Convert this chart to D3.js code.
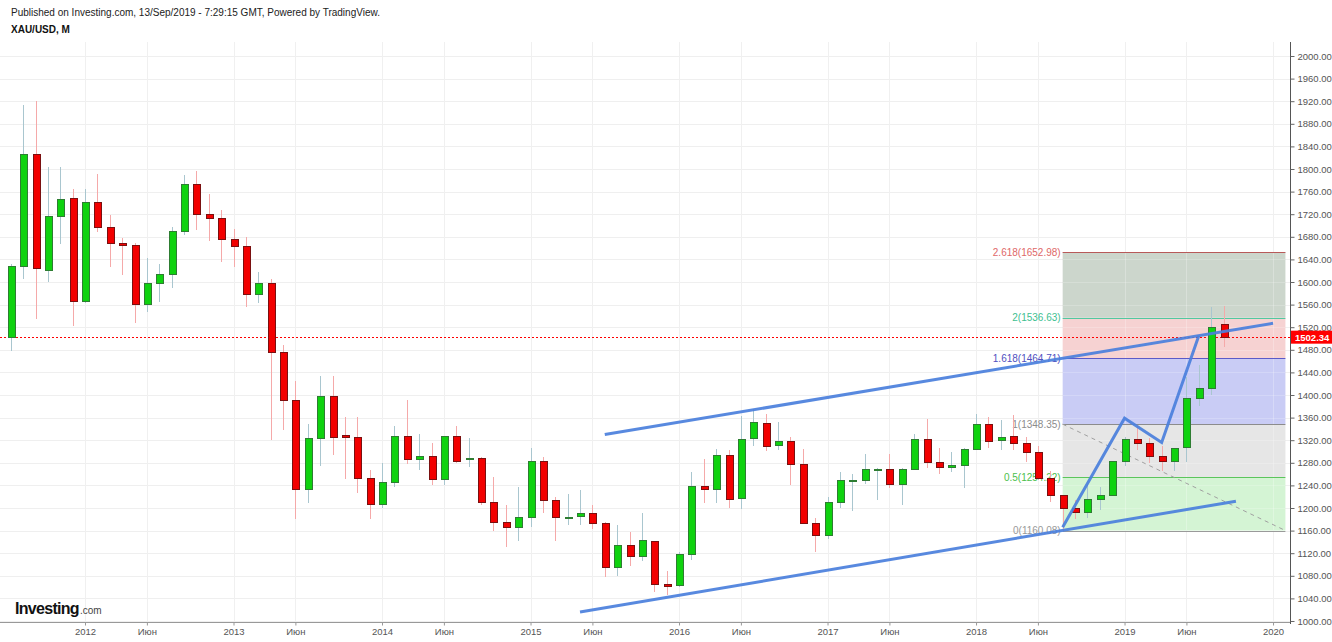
<!DOCTYPE html>
<html><head><meta charset="utf-8">
<script src="https://cdn.jsdelivr.net/npm/d3@7"></script>
<style>body{margin:0;background:#fff}svg{display:block;font-family:"Liberation Sans",Arial,sans-serif}</style>
</head><body><svg id="c" width="1332" height="642"></svg>
<script>
// ---- DATA (monthly XAU/USD, Jul 2011 .. Sep 2019) ----
const firstMonth = "2011-07";
const openV = [1502,1628,1826,1620,1716,1748, 1566,1740,1697,1669,1664,1561,1598,1614,1690,1772,1719,1712,
 1675,1663,1578,1597,1476,1391,1233,1323,1397,1328,1324,1252, 1206,1245,1327,1285,1292,1250,1327,1288,1288,1210,1174,1166,
 1184,1282,1213,1183,1185,1190,1173,1095,1134,1115,1140,1065, 1062,1118,1238,1233,1293,1216,1323,1350,1310,1317,1277,1173,
 1152,1210,1249,1249,1268,1268,1242,1269,1321,1280,1271,1275, 1303,1347,1319,1326,1315,1298,1252,1223,1200,1192,1215,1222,
 1282,1321,1314,1292,1283,1307,1394,1412,1524];
const highV = [1632,1913,1921,1803,1803,1764, 1764,1791,1719,1677,1669,1643,1631,1697,1790,1796,1755,1727,
 1694,1679,1617,1605,1488,1424,1348,1433,1434,1361,1361,1267, 1280,1345,1392,1331,1315,1326,1345,1324,1291,1255,1205,1238,
 1307,1291,1220,1224,1232,1205,1175,1170,1157,1191,1142,1088, 1123,1263,1287,1304,1303,1362,1375,1367,1352,1326,1304,1183,
 1220,1264,1261,1295,1270,1296,1270,1331,1358,1306,1299,1307, 1366,1361,1356,1365,1326,1309,1265,1220,1214,1243,1237,1284,
 1326,1346,1324,1310,1305,1432,1453,1556,1558];
const lowV = [1478,1605,1535,1600,1668,1523, 1563,1688,1627,1612,1527,1547,1564,1590,1683,1692,1672,1636,
 1626,1555,1562,1321,1338,1180,1208,1274,1293,1251,1227,1181, 1200,1238,1277,1268,1240,1240,1280,1273,1206,1160,1131,1142,
 1167,1191,1142,1170,1170,1162,1077,1080,1098,1106,1052,1046, 1061,1108,1208,1208,1200,1199,1310,1301,1302,1241,1171,1123,
 1146,1200,1194,1242,1214,1236,1205,1267,1271,1261,1264,1236, 1302,1307,1303,1302,1282,1250,1211,1160,1180,1182,1196,1221,
 1275,1303,1280,1266,1266,1281,1381,1400,1485];
const closeV = [1628,1826,1624,1716,1746,1565, 1740,1697,1669,1664,1561,1598,1614,1690,1772,1719,1712,1675,
 1663,1578,1597,1476,1391,1233,1323,1397,1324,1324,1252,1206, 1245,1327,1285,1292,1250,1327,1282,1288,1210,1174,1166,1184,
 1283,1213,1183,1183,1190,1173,1095,1134,1115,1142,1065,1061, 1118,1238,1232,1293,1215,1322,1351,1309,1317,1277,1173,1152,
 1210,1249,1249,1268,1268,1242,1269,1321,1280,1271,1275,1303, 1347,1317,1325,1315,1298,1252,1223,1200,1192,1215,1222,1282,
 1321,1314,1292,1283,1306,1394,1412,1520,1502.34];
const lastPrice = 1502.34;

const yTicks = [1000,1040,1080,1120,1160,1200,1240,1280,1320,1360,1400,1440,1480,1520,1560,1600,1640,1680,1720,1760,1800,1840,1880,1920,1960,2000];
const xTickMonths = ["2012-01","2012-06","2013-01","2013-06","2014-01","2014-06","2015-01","2015-06","2016-01","2016-06","2017-01","2017-06","2018-01","2018-06","2019-01","2019-06","2020-01"];
const xTickLabels = ["2012","Июн","2013","Июн","2014","Июн","2015","Июн","2016","Июн","2017","Июн","2018","Июн","2019","Июн","2020"];

const fibStart = "2018-08", fibEnd = "2020-02";
const fibLevels = ["0","0.5","1","1.618","2","2.618"];
const fibPrices = [1160.08,1254.22,1348.35,1464.71,1536.63,1652.98];
const fibLineColors = ["#9a9a9a","#5cc55c","#8c8c8c","#5a5ac8","#52c8a0","#b85a5a"];
const fibLabelColors = ["#999999","#4cc04c","#8c8c8c","#5050c0","#40c090","#e06868"];
const fibFillColors = ["#d4f4d4","#e6e6e6","#c9ccf5","#f6d2d2","#ccd6cc"];

const upperChannel = [["2015-07",1330],["2020-01",1527]];
const lowerChannel = [["2015-05",1016],["2019-10",1212]];
const zigzag = [["2018-08",1166],["2019-01",1359],["2019-04",1316],["2019-07",1505]];
const dashedLine = [["2018-08",1348.35],["2020-02",1160.08]];

// ---- SCALES ----
const mi = s => { const [yy,mm] = s.split("-").map(Number); const [y0,m0] = firstMonth.split("-").map(Number); return (yy-y0)*12 + (mm-m0); };
const W = 1332, H = 642, plotR = 1290, plotT = 42, plotB = 622;
const x = d3.scaleLinear().domain([-0.8687, 103.37]).range([0, plotR]);
const y = d3.scaleLinear().domain([998.23, 2024.78]).range([plotB, plotT]);

const svg = d3.select("#c");
svg.append("rect").attr("width",W).attr("height",H).attr("fill","#fff");

// grid
const g = svg.append("g").attr("shape-rendering","crispEdges");
g.selectAll(".hg").data(yTicks).join("line").attr("x1",0).attr("x2",plotR)
  .attr("y1",d=>Math.round(y(d))+0.5).attr("y2",d=>Math.round(y(d))+0.5).attr("stroke","#efefef");
g.selectAll(".vg").data(xTickMonths).join("line").attr("y1",plotT).attr("y2",plotB)
  .attr("x1",d=>Math.round(x(mi(d)))+0.5).attr("x2",d=>Math.round(x(mi(d)))+0.5).attr("stroke","#f0f0f0");

// fib zones
const fx0 = x(mi(fibStart)), fx1 = x(mi(fibEnd));
const fz = svg.append("g");
for (let k=0;k<fibFillColors.length;k++){
  fz.append("rect").attr("x",fx0).attr("width",fx1-fx0)
    .attr("y",y(fibPrices[k+1])).attr("height",y(fibPrices[k])-y(fibPrices[k+1]))
    .attr("fill",fibFillColors[k]);
}
fz.append("g").attr("shape-rendering","crispEdges").selectAll("line").data(xTickMonths.filter(d=>x(mi(d))>fx0)).join("line")
  .attr("y1",y(fibPrices[5])).attr("y2",y(fibPrices[0]))
  .attr("x1",d=>Math.round(x(mi(d)))+0.5).attr("x2",d=>Math.round(x(mi(d)))+0.5).attr("stroke","rgba(255,255,255,0.25)");
fz.append("g").attr("shape-rendering","crispEdges").selectAll("line").data(yTicks.filter(d=>d>fibPrices[0]&&d<fibPrices[5])).join("line")
  .attr("x1",fx0).attr("x2",fx1)
  .attr("y1",d=>Math.round(y(d))+0.5).attr("y2",d=>Math.round(y(d))+0.5).attr("stroke","rgba(255,255,255,0.2)");
fz.selectAll(".fl").data(fibPrices).join("line").attr("x1",fx0).attr("x2",fx1)
  .attr("y1",d=>Math.round(y(d))+0.5).attr("y2",d=>Math.round(y(d))+0.5)
  .attr("stroke",(d,i)=>fibLineColors[i]).attr("stroke-width",1);
fz.selectAll(".ft").data(fibPrices).join("text").attr("x",fx0-2).attr("y",d=>y(d)+3.5)
  .attr("text-anchor","end").attr("font-size",10).attr("fill",(d,i)=>fibLabelColors[i])
  .text((d,i)=>fibLevels[i]+"("+d.toFixed(2)+")");
svg.append("line").attr("x1",x(mi(dashedLine[0][0]))).attr("y1",y(dashedLine[0][1]))
  .attr("x2",x(mi(dashedLine[1][0]))).attr("y2",y(dashedLine[1][1]))
  .attr("stroke","#a0a0a0").attr("stroke-dasharray","4,4");

// last price dotted line
svg.append("line").attr("x1",0).attr("x2",plotR).attr("y1",Math.round(y(lastPrice))+0.5).attr("y2",Math.round(y(lastPrice))+0.5)
  .attr("stroke","#ff0000").attr("stroke-width",1).attr("stroke-dasharray","2,2");

// candles
const data = closeV.map((c,i)=>({i,o:openV[i],h:highV[i],l:lowV[i],c}));
const cg = svg.append("g").attr("shape-rendering","crispEdges");
cg.selectAll(".w").data(data).join("line")
  .attr("x1",d=>Math.round(x(d.i))+0.5).attr("x2",d=>Math.round(x(d.i))+0.5)
  .attr("y1",d=>y(d.h)).attr("y2",d=>y(d.l))
  .attr("stroke",d=>d.c>=d.o?"#a9c6cf":"#f5a9a9");
cg.selectAll(".b").data(data).join("rect")
  .attr("x",d=>Math.round(x(d.i))-3+0.5).attr("width",7)
  .attr("y",d=>y(Math.max(d.o,d.c))).attr("height",d=>Math.max(1,Math.abs(y(d.o)-y(d.c))))
  .attr("fill",d=>d.c>=d.o?"#0fd20f":"#f20000")
  .attr("stroke",d=>d.c>=d.o?"#2e7d32":"#7a1010").attr("stroke-width",1);

// blue drawings
const ln = d3.line().x(d=>x(mi(d[0]))).y(d=>y(d[1]));
[upperChannel, lowerChannel, zigzag].forEach(p=>{
  svg.append("path").attr("d",ln(p)).attr("fill","none").attr("stroke","#4a7fdc")
    .attr("stroke-width",3).attr("stroke-opacity",0.92).attr("stroke-linejoin","miter");
});

// axes
const ya = svg.append("g").attr("transform",`translate(${plotR+0.5},0)`)
  .call(d3.axisRight(y).tickValues(yTicks).tickFormat(d3.format(".2f")).tickSize(4).tickPadding(3));
ya.select(".domain").attr("stroke","#555");
ya.selectAll(".tick line").attr("stroke","#666");
ya.selectAll("text").attr("font-size",9.5).attr("fill","#555").attr("font-family","Liberation Sans, Arial, sans-serif");
ya.select(".domain").attr("d",`M0,${plotT}V${plotB+2}`);

const xa = svg.append("g").attr("transform",`translate(0,${plotB+0.5})`)
  .call(d3.axisBottom(x).tickValues(xTickMonths.map(mi)).tickFormat((d,i)=>xTickLabels[i]).tickSize(3).tickPadding(3));
xa.select(".domain").attr("stroke","#999").attr("d",`M0,0H${plotR}`);
xa.selectAll(".tick line").attr("stroke","#999");
xa.selectAll("text").attr("font-size",9.5).attr("fill","#555").attr("font-family","Liberation Sans, Arial, sans-serif");

// last price tag
const ly = y(lastPrice);
svg.append("rect").attr("x",plotR+1).attr("y",ly-6.5).attr("width",W-plotR-1).attr("height",13).attr("fill","#f00");
svg.append("text").attr("x",plotR+5).attr("y",ly+3.5).attr("font-size",9.5).attr("font-weight","bold").attr("fill","#fff").text(lastPrice.toFixed(2));

// header
svg.append("text").attr("x",11).attr("y",16).attr("font-size",10).attr("fill","#222")
  .text("Published on Investing.com, 13/Sep/2019 - 7:29:15 GMT, Powered by TradingView.");
svg.append("text").attr("x",11).attr("y",33).attr("font-size",10).attr("font-weight","bold").attr("fill","#111").text("XAU/USD, M");

// logo
const lg = svg.append("text").attr("x",15).attr("y",614);
lg.append("tspan").attr("font-size",16).attr("font-weight","bold").attr("letter-spacing",-0.7).attr("fill","#111").text("Investing");
lg.append("tspan").attr("font-size",10).attr("fill","#444").attr("dx",1).text(".com");
</script></body></html>
